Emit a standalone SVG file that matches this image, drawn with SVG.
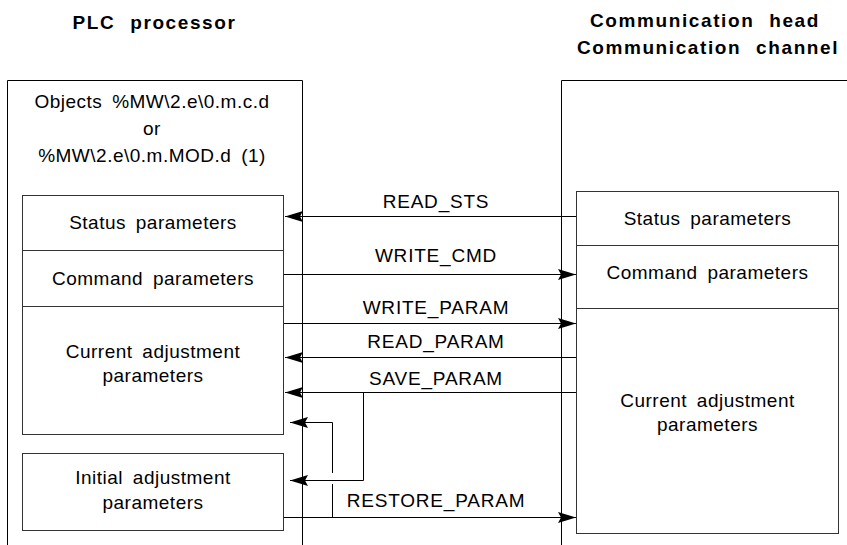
<svg xmlns="http://www.w3.org/2000/svg" width="847" height="545" viewBox="0 0 847 545">
<style>
.t{font-family:"Liberation Sans",Arial,sans-serif;font-size:19px;fill:#000;text-anchor:middle;word-spacing:4px;letter-spacing:0.5px}
.h{font-family:"Liberation Sans",Arial,sans-serif;font-size:19px;font-weight:bold;fill:#000;text-anchor:middle;letter-spacing:1.6px;word-spacing:8px}
.l{font-family:"Liberation Sans",Arial,sans-serif;font-size:19px;fill:#000;text-anchor:middle;letter-spacing:0.8px}
.box{fill:none;stroke:#333;stroke-width:1}
.frame{fill:none;stroke:#000;stroke-width:1}
.c{fill:none;stroke:#000;stroke-width:1}
</style>
<defs>
<marker id="ah" markerUnits="userSpaceOnUse" markerWidth="19" markerHeight="12" refX="18" refY="6" orient="auto">
<path d="M0,0.5 L18,6 L0,11.5 L3,6 Z" fill="#000"/>
</marker>
</defs>
<rect width="847" height="545" fill="#fff"/>
<g id="headers">
<text class="h" x="154.5" y="29">PLC processor</text>
<text class="h" x="705" y="27">Communication head</text>
<text class="h" x="708" y="54">Communication channel</text>
</g>
<g id="plc">
<path class="frame" d="M7.5,546 V80.5 H302.5 V546"/>
<text class="t" x="152" y="108">Objects %MW\2.e\0.m.c.d</text>
<text class="t" x="152" y="135">or</text>
<text class="t" x="152" y="162">%MW\2.e\0.m.MOD.d (1)</text>
</g>
<g id="plc-status">
<rect class="box" x="22.5" y="195.5" width="261" height="55"/>
<text class="t" x="153" y="229">Status parameters</text>
</g>
<g id="plc-command">
<rect class="box" x="22.5" y="250.5" width="261" height="56"/>
<text class="t" x="153" y="285">Command parameters</text>
</g>
<g id="plc-current">
<rect class="box" x="22.5" y="306.5" width="261" height="128"/>
<text class="t" x="153" y="358">Current adjustment</text>
<text class="t" x="153" y="382">parameters</text>
</g>
<g id="plc-initial">
<rect class="box" x="22.5" y="453.5" width="261" height="77"/>
<text class="t" x="153" y="484">Initial adjustment</text>
<text class="t" x="153" y="509">parameters</text>
</g>
<g id="comm">
<path class="frame" d="M561.5,546 V80.5 H848"/>
</g>
<g id="comm-status">
<rect class="box" x="576.5" y="191.5" width="262" height="54"/>
<text class="t" x="707.5" y="225">Status parameters</text>
</g>
<g id="comm-command">
<rect class="box" x="576.5" y="245.5" width="262" height="63"/>
<text class="t" x="707.5" y="279">Command parameters</text>
</g>
<g id="comm-current">
<rect class="box" x="576.5" y="308.5" width="262" height="225"/>
<text class="t" x="707.5" y="407">Current adjustment</text>
<text class="t" x="707.5" y="431">parameters</text>
</g>
<g id="connectors">
<line class="c" x1="576" y1="216.5" x2="285" y2="216.5" marker-end="url(#ah)"/>
<line class="c" x1="284" y1="274.5" x2="576" y2="274.5" marker-end="url(#ah)"/>
<line class="c" x1="284" y1="323.5" x2="576" y2="323.5" stroke="#444" marker-end="url(#ah)"/>
<line class="c" x1="576" y1="357.5" x2="285" y2="357.5" marker-end="url(#ah)"/>
<line class="c" x1="576" y1="392.5" x2="285" y2="392.5" marker-end="url(#ah)"/>
<path class="c" d="M363.5,392.5 V480.5 H290" marker-end="url(#ah)"/>
<line class="c" x1="284" y1="517.5" x2="576" y2="517.5" stroke="#444" marker-end="url(#ah)"/>
<path class="c" d="M332.5,517.5 V484"/>
<path class="c" d="M332.5,473 V422.5 H290" marker-end="url(#ah)"/>
<text class="l" x="436" y="208">READ_STS</text>
<text class="l" x="436" y="262">WRITE_CMD</text>
<text class="l" x="436" y="314">WRITE_PARAM</text>
<text class="l" x="436" y="348">READ_PARAM</text>
<text class="l" x="436" y="385">SAVE_PARAM</text>
<text class="l" x="436" y="507">RESTORE_PARAM</text>
</g>
</svg>
